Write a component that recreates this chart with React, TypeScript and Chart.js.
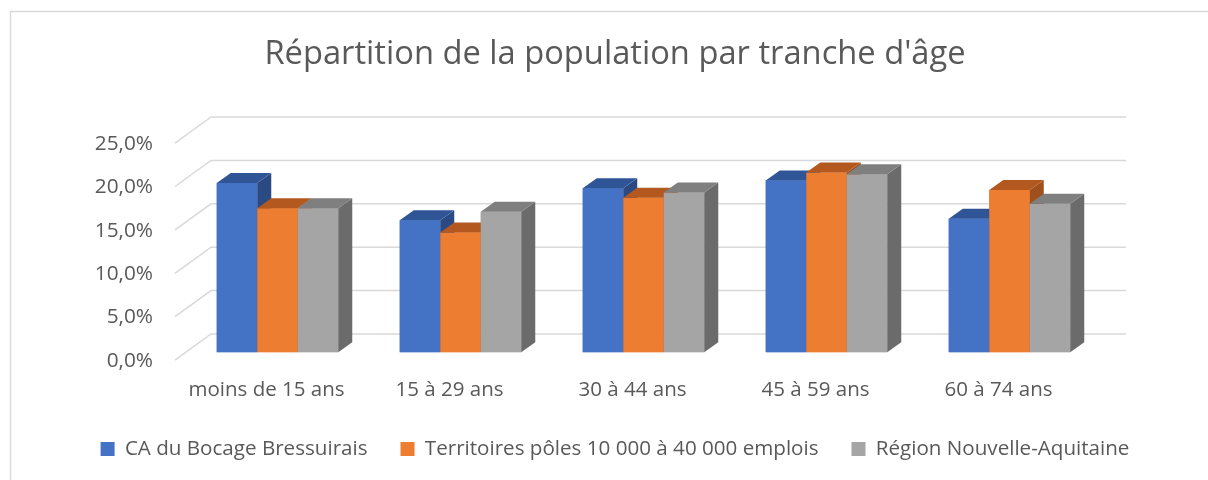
import React, { useEffect, useRef } from "react";
import { Chart, registerables } from "chart.js";

Chart.register(...registerables);

const TITLE = "Répartition de la population par tranche d'âge";
const categories = ["moins de 15 ans", "15 à 29 ans", "30 à 44 ans", "45 à 59 ans", "60 à 74 ans"];
const seriesNames = [
  "CA du Bocage Bressuirais",
  "Territoires pôles 10 000 à 40 000 emplois",
  "Région Nouvelle-Aquitaine",
];
const caBocage = [19.5, 15.2, 18.9, 19.8, 15.4];
const territoiresPoles = [16.6, 13.8, 17.8, 20.7, 18.7];
const regionNA = [16.6, 16.2, 18.4, 20.5, 17.1];
const yTicks = [0, 5, 10, 15, 20, 25];

const frontColors = ["#4472C4", "#ED7D31", "#A5A5A5"];
const topColors = ["#2F5597", "#B3591F", "#7F7F7F"];
const sideColors = ["#2B4A83", "#A0501C", "#6B6B6B"];

const FONT = "'Open Sans', Lato, sans-serif";
const TEXT = "#595959";
const GRID = "#D9D9D9";

// depth offsets (pixels)
const BAR_DX = 14;
const BAR_DY = -10;
const BACK_DX = 25;
const BACK_DY = -18.3;
const FRONT_DX = -11;
const FRONT_DY = 7.8;

const fmt = (v: number) => v.toFixed(1).replace(".", ",") + "%";

const threeD = {
  id: "threeD",
  beforeDraw(chart: any) {
    const ctx = chart.ctx;
    ctx.save();
    ctx.strokeStyle = GRID;
    ctx.lineWidth = 1.5;
    ctx.strokeRect(10.5, 11.5, 3000, 3000);
    ctx.restore();
  },
  beforeDatasetsDraw(chart: any) {
    const { ctx, chartArea } = chart;
    const y = chart.scales.y;
    ctx.save();
    ctx.strokeStyle = GRID;
    ctx.lineWidth = 1.5;
    yTicks.forEach((v) => {
      const py = y.getPixelForValue(v);
      ctx.beginPath();
      ctx.moveTo(chartArea.left + FRONT_DX, py + FRONT_DY);
      ctx.lineTo(chartArea.left + BACK_DX, py + BACK_DY);
      ctx.lineTo(chartArea.right + BACK_DX, py + BACK_DY);
      ctx.stroke();
    });
    ctx.restore();
  },
  afterDatasetsDraw(chart: any) {
    const ctx = chart.ctx;
    const metas = chart.data.datasets.map((_: any, i: number) => chart.getDatasetMeta(i));
    ctx.save();
    for (let c = 0; c < categories.length; c++) {
      metas.forEach((meta: any, d: number) => {
        const el = meta.data[c];
        if (!el) return;
        const { x, y, base, width } = el.getProps(["x", "y", "base", "width"], true);
        const l = x - width / 2;
        const r = x + width / 2;
        ctx.fillStyle = frontColors[d];
        ctx.fillRect(l, y, r - l, base - y);
        ctx.fillStyle = sideColors[d];
        ctx.beginPath();
        ctx.moveTo(r, y);
        ctx.lineTo(r + BAR_DX, y + BAR_DY);
        ctx.lineTo(r + BAR_DX, base + BAR_DY);
        ctx.lineTo(r, base);
        ctx.closePath();
        ctx.fill();
        ctx.fillStyle = topColors[d];
        ctx.beginPath();
        ctx.moveTo(l, y);
        ctx.lineTo(l + BAR_DX, y + BAR_DY);
        ctx.lineTo(r + BAR_DX, y + BAR_DY);
        ctx.lineTo(r, y);
        ctx.closePath();
        ctx.fill();
      });
    }
    ctx.restore();
  },
};

export default function App() {
  const ref = useRef<HTMLCanvasElement | null>(null);
  useEffect(() => {
    document.body.style.margin = "0";
    if (!ref.current) return;
    const chart = new Chart(ref.current, {
      type: "bar",
      data: {
        labels: categories,
        datasets: [caBocage, territoiresPoles, regionNA].map((data, i) => ({
          label: seriesNames[i],
          data,
          backgroundColor: frontColors[i],
          borderWidth: 0,
          categoryPercentage: 0.664,
          barPercentage: 1,
        })),
      },
      options: {
        animation: false,
        responsive: false,
        devicePixelRatio: 1,
        layout: { padding: { left: 22, right: 0, top: 0, bottom: 10.7 } },
        plugins: {
          title: {
            display: true,
            text: TITLE,
            color: TEXT,
            font: { family: FONT, size: 32.7, weight: "normal" },
            padding: { top: 35.4, bottom: 60.66 },
          },
          legend: {
            display: true,
            position: "bottom",
            labels: {
              color: TEXT,
              font: { family: FONT, size: 20.6 },
              boxWidth: 14,
              boxHeight: 14,
              padding: 33,
            },
          },
          tooltip: { enabled: false },
        },
        scales: {
          x: {
            grid: { display: false, drawTicks: false },
            border: { display: false },
            ticks: {
              color: TEXT,
              font: { family: FONT, size: 20.5 },
              padding: 25.4,
              labelOffset: FRONT_DX,
              maxRotation: 0,
              autoSkip: false,
            },
            afterFit: (s: any) => {
              s.height = 53.4;
            },
          },
          y: {
            min: 0,
            max: 25,
            grid: { display: false, drawTicks: false },
            border: { display: false },
            afterBuildTicks: (s: any) => {
              s.ticks = yTicks.map((v) => ({ value: v }));
            },
            ticks: {
              color: TEXT,
              font: { family: FONT, size: 20.8 },
              padding: 33,
              labelOffset: 8.5,
              callback: (v: any) => fmt(Number(v)),
            },
            afterFit: (s: any) => {
              s.width = 164;
            },
          },
          yRight: {
            position: "right",
            display: true,
            grid: { display: false, drawTicks: false },
            border: { display: false },
            ticks: { display: false },
            afterFit: (s: any) => {
              s.width = 107;
            },
          },
        },
      },
      plugins: [threeD],
    });
    return () => chart.destroy();
  }, []);
  return (
    <div style={{ width: 1208, height: 480, background: "#fff" }}>
      <canvas ref={ref} width={1208} height={480} style={{ display: "block" }} />
    </div>
  );
}
